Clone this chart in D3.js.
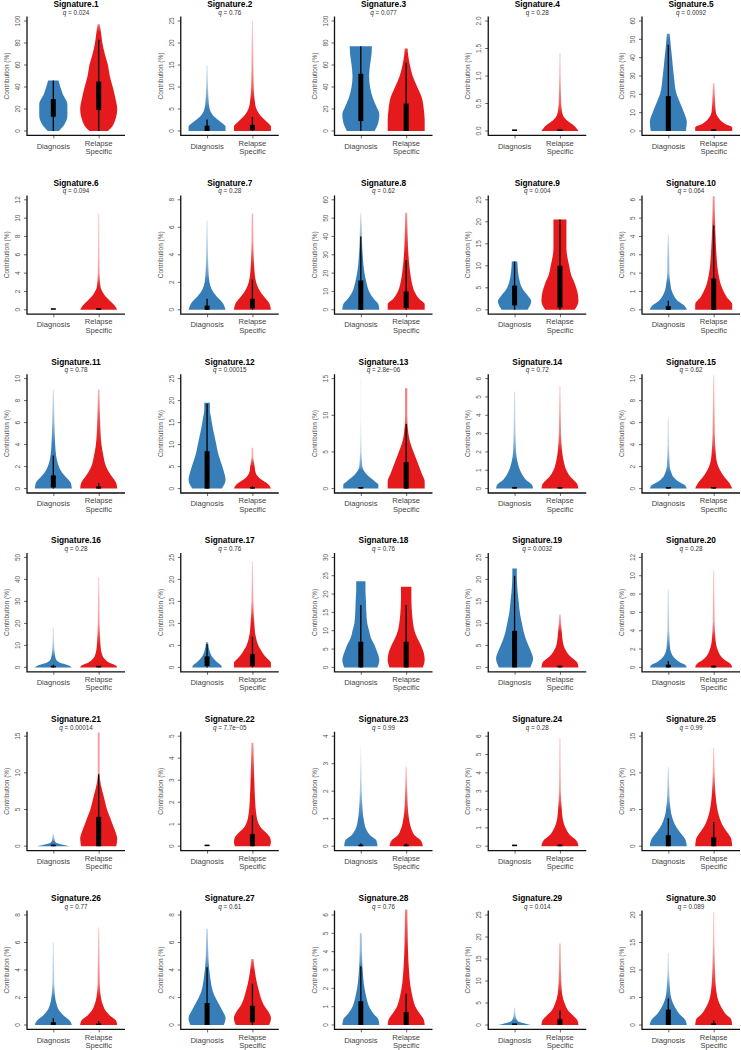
<!DOCTYPE html>
<html>
<head>
<meta charset="utf-8">
<script src="https://cdn.jsdelivr.net/npm/d3@7"></script>
<style>
  body { margin: 0; background: #fff; }
  text { font-family: 'Liberation Sans', Arial, Helvetica, sans-serif; }
</style>
</head>
<body>
<svg id="chart" width="741" height="1050"></svg>
<script>
const signatures = d3.range(1, 31).map(i => 'Signature.' + i)

const qValues = ['0.024', '0.76', '0.077', '0.28', '0.0092',
  '0.094', '0.28', '0.62', '0.004', '0.064',
  '0.78', '0.00015', '2.8e\u221206', '0.72', '0.62',
  '0.28', '0.76', '0.76', '0.0032', '0.28',
  '0.00014', '7.7e\u221205', '0.99', '0.28', '0.99',
  '0.77', '0.61', '0.76', '0.014', '0.089']

const yMax = [100, 25, 100, 2, 60, 12, 8, 60, 25, 6,
  10, 25, 15, 6, 10, 50, 25, 30, 25, 12,
  15, 5, 4, 6, 15, 8, 8, 6, 25, 20]

const yStep = [20, 5, 20, 0.5, 10, 2, 2, 10, 5, 1,
  2, 5, 5, 1, 2, 10, 5, 5, 5, 2,
  5, 1, 1, 1, 5, 2, 2, 1, 5, 5]

const groups = ['Diagnosis', 'Relapse Specific']
const groupColors = ['#377eb8', '#e41a1c']

// density outlines: [value, relative half width]
const diagnosisShapes = [
  [[0,.29],[6,.6],[14,.76],[24,.76],[34,.5],[46,.28]],
  [[0,1],[1,1],[2,.75],[3,.45],[4,.25],[5,.14],[7,.08],[10,.05],[15,.03]],
  [[0,.75],[8,.95],[15,1],[22,.85],[30,.65],[40,.5],[50,.45],[60,.5],[70,.58],[77,.6]],
  [],
  [[0,.95],[5,1],[10,.85],[15,.65],[20,.45],[30,.3],[40,.2],[50,.1],[53,.08]],
  [],
  [[0,1],[.5,.85],[1,.5],[1.5,.25],[2,.13],[3,.07],[4,.05],[6.5,.03]],
  [[0,1],[3,.95],[6,.7],[10,.45],[15,.3],[20,.2],[30,.1],[40,.06],[53,.03]],
  [[0,.7],[2,.9],[3,.75],[5,.4],[7,.25],[9,.18],[11,.15]],
  [[0,1],[.2,.9],[.5,.5],[1,.2],[1.5,.1],[2,.06],[3,.05],[4.1,.03]],
  [[0,1],[.5,.95],[1,.7],[1.5,.45],[2,.3],[3,.15],[4,.1],[6,.06],[9,.03]],
  [[0,.8],[2,1],[4,.9],[6,.75],[8,.6],[10,.5],[12,.4],[14,.3],[16,.22],[18,.15],[19.5,.15]],
  [[0,.95],[.5,.95],[1,.75],[1.5,.5],[2,.3],[2.5,.15],[3,.08],[5,.04],[10,.02],[15,.02]],
  [[0,1],[.2,.95],[.5,.6],[1,.3],[1.5,.15],[2,.08],[3,.05],[5.3,.03]],
  [[0,1],[.3,.9],[.7,.5],[1,.3],[1.5,.15],[2,.08],[4,.04],[6.3,.03]],
  [[0,1],[1,.8],[2,.4],[3,.2],[5,.1],[8,.06],[12,.04],[18,.03]],
  [[0,.8],[.5,.75],[1,.6],[2,.35],[3,.2],[4,.12],[5,.08],[5.8,.06]],
  [[0,.9],[2,1],[4,.9],[6,.75],[8,.55],[10,.45],[12,.35],[15,.3],[18,.28],[21,.25],[23.5,.25]],
  [[0,.85],[2,1],[4,.85],[6,.65],[8,.5],[10,.4],[12,.3],[15,.22],[18,.15],[21,.12],[22.5,.12]],
  [[0,1],[.3,.9],[.6,.6],[1,.35],[1.5,.18],[2,.1],[4,.05],[8.5,.03]],
  [[0,.9],[.2,.5],[.4,.2],[.6,.1],[1,.06],[1.6,.04]],
  [],
  [[0,.9],[.2,.85],[.4,.5],[.6,.3],[1,.15],[1.5,.08],[2,.05],[3,.03],[3.7,.02]],
  [],
  [[0,1],[1,.9],[2,.6],[3,.35],[4,.2],[5,.12],[7,.06],[10.8,.03]],
  [[0,1],[.3,.9],[.7,.55],[1,.35],[1.5,.18],[2,.1],[3,.05],[6,.03]],
  [[0,.9],[.5,1],[1,.85],[1.5,.65],[2,.45],[2.5,.3],[3,.22],[4,.12],[5,.07],[7,.04]],
  [[0,1],[.3,.95],[.6,.7],[1,.45],[1.5,.3],[2,.2],[3,.1],[4,.06],[5,.05]],
  [[0,.9],[.3,.6],[.6,.3],[1,.15],[2,.06],[3,.04],[4,.03]],
  [[0,1],[1,.9],[2,.6],[3,.4],[4,.25],[5,.15],[7,.08],[10,.04],[13,.03]],
]

const relapseShapes = [
  [[0,.5],[5,.77],[20,1],[30,.9],[40,.76],[50,.6],[60,.5],[70,.33],[80,.2],[90,.12],[97,.06]],
  [[0,1],[1,1],[2,.8],[3,.55],[4,.35],[5,.22],[7,.12],[10,.07],[15,.05],[20,.04],[25,.03]],
  [[0,1],[10,1],[20,.95],[30,.85],[40,.6],[50,.35],[60,.2],[70,.1],[75,.08]],
  [[0,1],[.1,.75],[.2,.35],[.3,.15],[.5,.07],[1,.04],[1.42,.03]],
  [[0,1],[2,1],[4,.6],[6,.35],[8,.2],[10,.12],[15,.08],[20,.06],[26,.04]],
  [[0,1],[.5,.85],[1,.6],[1.5,.35],[2,.2],[2.5,.1],[4,.05],[6,.04],[10.5,.03]],
  [[0,1],[.5,.9],[1,.6],[1.5,.35],[2,.2],[3,.1],[5,.05],[7,.04]],
  [[0,1],[3,1],[6,.7],[10,.45],[15,.3],[20,.22],[30,.12],[40,.08],[53,.05]],
  [[0,.8],[2,1],[4,.95],[6,.8],[8,.6],[10,.5],[12,.4],[14,.35],[16,.35],[18,.35],[20.5,.35]],
  [[0,1],[.3,1],[.7,.7],[1.2,.45],[2,.25],[3,.15],[4,.1],[5,.07],[6.2,.05]],
  [[0,1],[.5,.95],[1,.75],[1.5,.55],[2,.4],[3,.25],[4,.15],[6,.08],[9,.04]],
  [[0,1],[1,.85],[2,.5],[3,.25],[4,.15],[5,.12],[6,.08],[7,.05],[9.3,.04]],
  [[0,1],[1,1],[2,.85],[3,.7],[4,.55],[5,.4],[6,.25],[7,.15],[8,.1],[9,.07],[10,.06],[13.7,.06]],
  [[0,1],[.3,.9],[.6,.6],[1,.35],[1.5,.2],[2,.12],[3,.06],[5.6,.03]],
  [[0,1],[.5,.85],[1,.6],[1.5,.4],[2,.25],[3,.12],[5,.06],[10.3,.03]],
  [[0,1],[1,.9],[2,.6],[4,.3],[6,.18],[10,.1],[20,.05],[30,.04],[41,.03]],
  [[0,1],[1,1],[2,.8],[3,.6],[4,.45],[5,.32],[7,.18],[10,.1],[15,.05],[24,.03]],
  [[0,.9],[2,1],[4,.95],[6,.8],[8,.6],[10,.45],[13,.35],[16,.3],[19,.28],[22,.28]],
  [[0,1],[1,.95],[2,.7],[3,.45],[4,.3],[5,.2],[6,.15],[8,.1],[10,.06],[12,.04]],
  [[0,1],[.4,.9],[.8,.6],[1.2,.4],[2,.2],[3,.1],[5,.05],[10.6,.03]],
  [[0,.95],[1,1],[2,.9],[3,.75],[4,.6],[5,.45],[6,.35],[7,.25],[8,.15],[9,.08],[10,.05],[12,.05],[15.5,.05]],
  [[0,.95],[.2,1],[.4,.95],[.6,.75],[.8,.5],[1,.35],[1.5,.2],[2,.15],[3,.1],[4,.07],[4.7,.05]],
  [[0,.9],[.2,.8],[.4,.45],[.6,.3],[1,.15],[1.5,.08],[2.9,.03]],
  [[0,1],[.3,.9],[.6,.55],[1,.3],[1.5,.15],[2,.1],[3,.05],[5.9,.03]],
  [[0,1],[1,.95],[2,.7],[3,.45],[4,.3],[5,.2],[7,.1],[10,.05],[13.5,.03]],
  [[0,1],[.3,.95],[.7,.6],[1,.4],[1.5,.22],[2,.12],[3,.06],[7.1,.03]],
  [[0,.9],[.5,1],[1,.85],[1.5,.6],[2,.45],[2.5,.35],[3,.25],[4,.12],[4.8,.06]],
  [[0,1],[.3,.95],[.6,.75],[1,.5],[1.5,.35],[2,.25],[3,.15],[4,.1],[5,.08],[6.3,.06]],
  [[0,1],[1,.95],[2,.75],[3,.5],[4,.35],[5,.25],[7,.12],[10,.07],[14,.05],[18.5,.04]],
  [[0,1],[1,.95],[2,.65],[3,.45],[4,.3],[6,.15],[10,.07],[15,.04],[20.5,.03]],
]

// [whisker low, q1, q3, whisker high]
const diagnosisBoxes = [
  [0,13,29,46], [0,0,1.2,2.6], [0,9,52,77], [0,0,0,0], [0,0,19,47],
  [0,0,0,0], [0,0,.3,.8], [0,0,16,40], [0,1,5.5,11], [0,0,.2,.5],
  [0,.1,1.2,3], [0,0,8.5,19.3], [0,0,.05,.1], [0,0,.05,.1], [0,0,.05,.1],
  [0,0,.5,1.2], [0,.3,2.5,5.4], [0,0,7,17], [0,0,8.3,20.8], [0,0,.3,.7],
  [0,0,.02,.05], [0,0,0,0], [0,0,.05,.1], [0,0,0,0], [0,0,1.5,3.8],
  [0,0,.2,.5], [0,0,1.6,4.2], [0,0,1.3,3.2], [0,0,.1,.2], [0,0,2.8,4.8],
]

const relapseBoxes = [
  [0,19,45,83], [0,.2,1.4,3.2], [0,0,25,62], [0,0,.01,.02], [0,0,.5,1],
  [0,0,.05,.1], [0,.1,.8,2.2], [0,1,10,27], [0,.5,10,20.5], [0,0,1.7,4.6],
  [0,0,.2,.5], [0,0,.2,.5], [0,0,3.6,8.8], [0,0,.05,.1], [0,0,.05,.1],
  [0,0,.3,.8], [0,.3,3,7], [0,0,7,17], [0,0,.2,.5], [0,0,.1,.2],
  [0,0,4,9.8], [0,0,.55,1.4], [0,0,.05,.1], [0,0,.05,.1], [0,0,1.2,3.3],
  [0,0,.1,.3], [0,.2,1.4,3], [0,0,.7,1.7], [0,0,1.3,3.3], [0,0,.3,.8],
]

const svg = d3.select('#chart')
const defs = svg.append('defs')

const colStep = 153.75
const rowStep = 178.8
const plotW = 98
const plotH = 110
const pad = plotH * 0.04

const widthScale = d3.scaleLinear().domain([0, 1]).range([0, 18.5])
// thin tails of the violins fade out, as in the rasterised original
const fadeScale = d3.scaleLinear().domain([0.25, 1.8]).range([0, 1]).clamp(true)

signatures.forEach((name, i) => {
  const col = i % 5
  const row = Math.floor(i / 5)
  const left = 27 + col * colStep
  const zero = 131 + row * rowStep

  const x = d3.scaleLinear().domain([0.42, 2.58]).range([left, left + plotW])
  const y = d3.scaleLinear().domain([0, yMax[i]]).range([zero, zero - plotH])

  const panel = svg.append('g')
      .attr('class', 'panel')

  const cx = left + plotW / 2
  panel.append('text')
      .attr('x', cx)
      .attr('y', zero - 124)
      .attr('text-anchor', 'middle')
      .attr('font-size', 8.3)
      .attr('font-weight', 'bold')
      .text(name)

  const qText = panel.append('text')
      .attr('x', cx)
      .attr('y', zero - 116.5)
      .attr('text-anchor', 'middle')
      .attr('font-size', 6.3)
      .attr('fill', '#333')
  qText.append('tspan').attr('font-style', 'italic').text('q')
  qText.append('tspan').text(' = ' + qValues[i])

  // violins
  const shapes = [diagnosisShapes[i], relapseShapes[i]]
  const boxes = [diagnosisBoxes[i], relapseBoxes[i]]

  shapes.forEach((shape, g) => {
    const gx = x(g + 1)
    if (shape.length) {
      const top = shape[shape.length - 1][0]
      const gradId = `fade-${i}-${g}`
      const grad = defs.append('linearGradient')
          .attr('id', gradId)
          .attr('gradientUnits', 'userSpaceOnUse')
          .attr('x1', 0).attr('x2', 0)
          .attr('y1', y(0)).attr('y2', y(top))
      shape.forEach(d => {
        grad.append('stop')
            .attr('offset', d[0] / top)
            .attr('stop-color', groupColors[g])
            .attr('stop-opacity', fadeScale(widthScale(d[1])))
      })

      const area = d3.area()
          .y(d => y(d[0]))
          .x0(d => gx - widthScale(d[1]))
          .x1(d => gx + widthScale(d[1]))
          .curve(d3.curveMonotoneY)

      panel.append('path')
          .datum(shape)
          .attr('d', area)
          .attr('fill', `url(#${gradId})`)
    }

    const [lo, q1, q3, hi] = boxes[g]
    panel.append('line')
        .attr('x1', gx).attr('x2', gx)
        .attr('y1', y(lo)).attr('y2', y(hi))
        .attr('stroke', '#000')
        .attr('stroke-width', 1.3)
    const bh = Math.max(1.6, y(q1) - y(q3))
    panel.append('rect')
        .attr('x', gx - 2.5)
        .attr('y', y(q1) - bh)
        .attr('width', 5)
        .attr('height', bh)
        .attr('fill', '#000')
  })

  // y axis: ticks with labels turned to read upwards
  const yTicks = d3.range(0, yMax[i] + yStep[i] / 2, yStep[i])
  const fmt = d3.format(yStep[i] < 1 ? '.1f' : 'd')
  const yg = panel.append('g')
  yg.selectAll('line')
      .data(yTicks)
      .join('line')
      .attr('x1', left - 3).attr('x2', left)
      .attr('y1', d => y(d)).attr('y2', d => y(d))
      .attr('stroke', '#444')
      .attr('stroke-width', 0.8)
  yg.selectAll('text')
      .data(yTicks)
      .join('text')
      .attr('transform', d => `translate(${left - 7},${y(d)}) rotate(-90)`)
      .attr('text-anchor', 'middle')
      .attr('font-size', 6.5)
      .attr('fill', '#555')
      .text(fmt)

  const xAxis = d3.axisBottom(x)
      .tickValues([1, 2])
      .tickSize(3)
      .tickFormat('')
  const xg = panel.append('g')
      .attr('transform', `translate(0,${zero + pad})`)
      .call(xAxis)
  xg.select('.domain').remove()
  xg.selectAll('.tick line').attr('stroke', '#444').attr('stroke-width', 0.8)

  // L-shaped frame
  panel.append('path')
      .attr('d', `M${left},${zero - plotH - pad}V${zero + pad}H${left + plotW}`)
      .attr('fill', 'none')
      .attr('stroke', '#111')
      .attr('stroke-width', 1.3)

  // group labels
  panel.append('text')
      .attr('x', x(1))
      .attr('y', zero + 17.5)
      .attr('text-anchor', 'middle')
      .attr('font-size', 7.6)
      .attr('fill', '#444')
      .text(groups[0])
  const rel = panel.append('text')
      .attr('x', x(2))
      .attr('y', zero + 14.5)
      .attr('text-anchor', 'middle')
      .attr('font-size', 7.6)
      .attr('fill', '#444')
  groups[1].split(' ').forEach((w, k) => {
    rel.append('tspan')
        .attr('x', x(2))
        .attr('dy', k ? 8.5 : 0)
        .text(w)
  })

  panel.append('text')
      .attr('transform', `translate(${left - 18},${zero - plotH / 2}) rotate(-90)`)
      .attr('text-anchor', 'middle')
      .attr('font-size', 6.5)
      .attr('fill', '#555')
      .text('Contribution (%)')
})
</script>
</body>
</html>
